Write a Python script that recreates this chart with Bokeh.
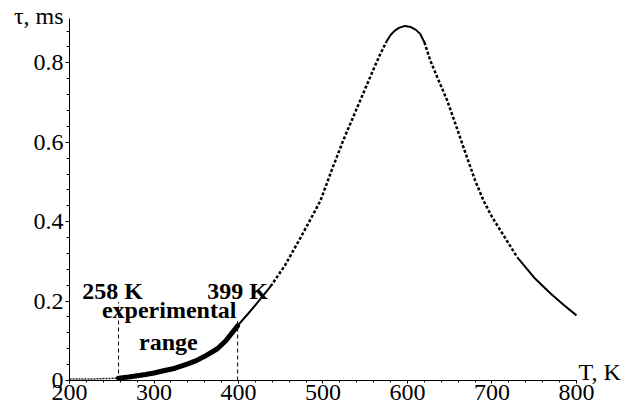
from bokeh.plotting import figure
from bokeh.models import Range1d, FixedTicker, Label, ColumnDataSource
from bokeh.embed import file_html
from bokeh.resources import INLINE

# ---- data ----
T = [200, 230, 258, 270, 280, 290, 300, 310, 325, 340, 350, 360, 375, 385, 399, 410, 420,
     438, 455, 473, 485, 497, 510, 524, 545, 560, 568, 575, 580, 585, 590, 597, 604, 610,
     615, 620, 627, 635, 647, 655, 665, 680, 690, 700, 710, 730, 750, 770, 785, 800]
tau = [0.004, 0.004, 0.006, 0.009, 0.012, 0.015, 0.019, 0.024, 0.031, 0.042, 0.050, 0.061,
       0.080, 0.100, 0.138, 0.165, 0.19, 0.237, 0.29, 0.358, 0.405, 0.453, 0.528, 0.605,
       0.71, 0.785, 0.823, 0.853, 0.870, 0.881, 0.888, 0.893, 0.890, 0.883,
       0.873, 0.852, 0.806, 0.765, 0.705, 0.657, 0.595, 0.504, 0.453, 0.412, 0.378, 0.31,
       0.259, 0.218, 0.19, 0.164]

# style breakpoints along the curve (T values present in T)
seg_bounds = [200, 258, 399, 438, 575, 620, 730, 800]
seg_style = ["faint", "thick", "solid", "dotted", "solid", "dotted", "solid"]

marker_T = [258, 399]
marker_top = [0.197, 0.15]
marker_text = ["258 K", "399 K"]

x_ticks = [200, 300, 400, 500, 600, 700, 800]
x_minor = [v for v in range(200, 801, 20)]
y_ticks = [0, 0.2, 0.4, 0.6, 0.8]
y_tick_labels = ["0", "0.2", "0.4", "0.6", "0.8"]
y_minor = [round(i * 0.04, 2) for i in range(0, 23)]

FONT = "Liberation Serif"

p = figure(width=633, height=408, output_backend="svg", toolbar_location=None,
           x_range=Range1d(118.3, 867.5), y_range=Range1d(-0.0705, 0.957),
           min_border=0)
p.grid.visible = False
p.outline_line_color = None
p.background_fill_color = "white"
p.border_fill_color = "white"

# axes drawn at x=200 / y=0 inside the frame
for ax in (p.xaxis[0], p.yaxis[0]):
    ax.axis_line_color = "black"
    ax.axis_line_width = 1
    ax.major_tick_line_color = "black"
    ax.minor_tick_line_color = "black"
    ax.major_tick_in = 0
    ax.minor_tick_in = 0
    ax.major_label_text_font = FONT
    ax.major_label_text_font_size = "24px"
    ax.major_label_text_color = "black"

p.xaxis.fixed_location = 0
p.xaxis.bounds = (200, 800)
p.xaxis.ticker = FixedTicker(ticks=x_ticks, minor_ticks=x_minor)
p.xaxis.major_tick_out = 3
p.xaxis.minor_tick_out = 2
p.xaxis.major_label_standoff = 1

p.yaxis.fixed_location = 200
p.yaxis.bounds = (0, 0.912)
p.yaxis.ticker = FixedTicker(ticks=y_ticks, minor_ticks=y_minor)
p.yaxis.major_label_overrides = {t: l for t, l in zip(y_ticks, y_tick_labels)}
p.yaxis.major_tick_out = 4
p.yaxis.minor_tick_out = 3
p.yaxis.major_label_standoff = 2

# curve, split into styled pieces
styles = {
    "faint": dict(line_width=1.5, line_dash="2 1", line_color="#222222"),
    "thick": dict(line_width=5, line_dash="solid", line_color="black"),
    "solid": dict(line_width=2, line_dash="solid", line_color="black"),
    "dotted": dict(line_width=2.5, line_dash="3 2", line_color="black"),
}
for i, st in enumerate(seg_style):
    a, b = seg_bounds[i], seg_bounds[i + 1]
    xs = [t for t in T if a <= t <= b]
    ys = [v for t, v in zip(T, tau) if a <= t <= b]
    p.line(xs, ys, line_join="round", line_cap="round" if st == "thick" else "butt", **styles[st])

# dashed vertical markers of the experimental range
src = ColumnDataSource(dict(x=marker_T, y0=[0, 0], y1=marker_top))
p.segment(x0="x", y0="y0", x1="x", y1="y1", source=src,
          line_color="black", line_width=1, line_dash="4 3")

# annotations
def lab(x, y, text, align="center", bold=True):
    p.add_layout(Label(x=x, y=y, text=text, text_font=FONT, text_font_size="24px",
                       text_font_style="bold" if bold else "normal",
                       text_align=align, text_baseline="alphabetic", text_color="black"))

lab(251, 0.225, marker_text[0])
lab(399, 0.225, marker_text[1])
lab(318, 0.177, "experimental")
lab(317, 0.096, "range")
lab(193, 0.918, "τ, ms", align="right", bold=False)
lab(802.4, 0.022, "T, K", align="left", bold=False)

open("out.html", "w").write(file_html(p, INLINE))
